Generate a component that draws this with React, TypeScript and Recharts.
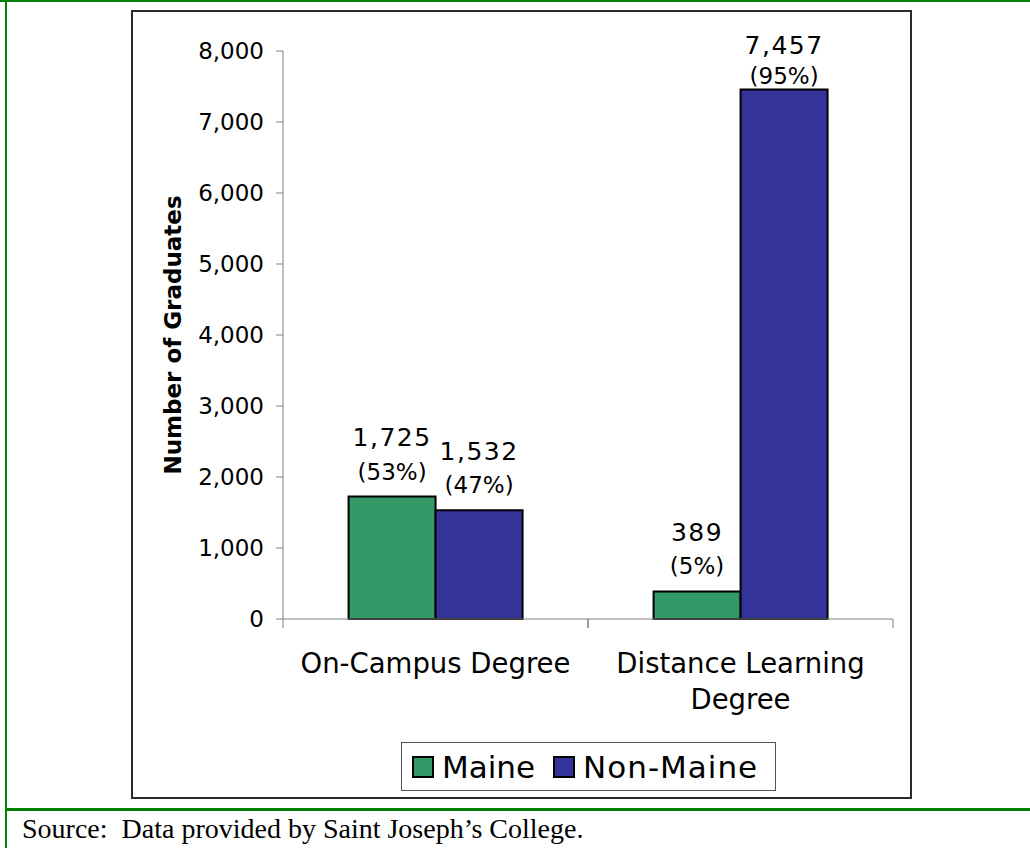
import React from "react";
import { BarChart, Bar, XAxis, YAxis, LabelList } from "recharts";

const categories = ["On-Campus Degree", "Distance Learning Degree"];
const categoryLines = [["On-Campus Degree"], ["Distance Learning", "Degree"]];
const maine = [1725, 389];
const nonMaine = [1532, 7457];
const mainePct = [53, 5];
const nonMainePct = [47, 95];
const yTicks = [0, 1000, 2000, 3000, 4000, 5000, 6000, 7000, 8000];

const data = categories.map((c, i) => ({ category: c, maine: maine[i], nonMaine: nonMaine[i] }));

const FONT = "'DejaVu Sans', Verdana, sans-serif";
const fmt = (v: number) => v.toLocaleString("en-US");

// category label plus Excel-style tick marks on the band edges
const CategoryTick = ({ x, y, payload }: any) => {
  const idx = categories.indexOf(payload.value);
  const lines = categoryLines[idx] || [payload.value];
  const half = payload.offset || 0;
  return (
    <g>
      <line x1={x - half} x2={x - half} y1={y} y2={y + 9} stroke="#808080" />
      <line x1={x + half} x2={x + half} y1={y} y2={y + 9} stroke="#808080" />
      {lines.map((line, i) => (
        <text key={i} x={x} y={y + 44 + i * 36} textAnchor="middle" dominantBaseline="central"
          fontFamily={FONT} fontSize={27.5} fill="#000">
          {line}
        </text>
      ))}
    </g>
  );
};

const makeLabel = (pcts: number[]) => (props: any) => {
  const { x, y, width, value, index } = props;
  const cx = x + width / 2;
  const clamped = y - 59 < 45;
  const vy = clamped ? 45 : y - 59;
  const py = vy + (clamped ? 31 : 34);
  return (
    <g>
      <text x={cx} y={vy} textAnchor="middle" dominantBaseline="central" fontFamily={FONT}
        fontSize={25} letterSpacing={1.5} fill="#000">{fmt(value)}</text>
      <text x={cx} y={py} textAnchor="middle" dominantBaseline="central" fontFamily={FONT}
        fontSize={23} fill="#000">({pcts[index]}%)</text>
    </g>
  );
};

const Swatch = ({ color }: { color: string }) => (
  <span style={{ display: "inline-block", width: 18, height: 18, background: color, border: "2px solid #000" }} />
);

export default function App() {
  return (
    <div style={{ position: "absolute", left: 0, top: 0, width: 1030, height: 848, background: "#fff", overflow: "hidden" }}>
      {/* green frame */}
      <div style={{ position: "absolute", left: 0, top: 0, width: 1030, height: 2, background: "#008000" }} />
      <div style={{ position: "absolute", left: 5, top: 0, width: 2, height: 848, background: "#008000" }} />
      <div style={{ position: "absolute", left: 5, top: 808, width: 1025, height: 3, background: "#008000" }} />
      {/* chart box */}
      <div style={{ position: "absolute", left: 131, top: 10, width: 781, height: 789, boxSizing: "border-box", border: "2px solid #2b2b2b" }} />

      <div style={{ position: "absolute", left: 0, top: 0 }}>
        <BarChart width={1030} height={848} data={data} barCategoryGap="21.5%" barGap={0}
          margin={{ top: 51, right: 137, left: 203, bottom: 149 }}>
          <XAxis dataKey="category" height={80} stroke="#808080" tickLine={false}
            tickSize={0} tickMargin={0} tick={<CategoryTick />} interval={0} />
          <YAxis width={80} domain={[0, 8000]} ticks={yTicks} tickFormatter={fmt} stroke="#808080"
            tickSize={7} tickMargin={12} interval={0}
            tick={{ fill: "#000", fontSize: 23, fontFamily: FONT }}
            label={{ value: "Number of Graduates", angle: -90, position: "left", offset: 30,
              style: { textAnchor: "middle", fontFamily: FONT, fontSize: 23, fontWeight: "bold", fill: "#000" } }} />
          <Bar dataKey="maine" fill="#339966" stroke="#000" strokeWidth={2} isAnimationActive={false}>
            <LabelList dataKey="maine" content={makeLabel(mainePct)} />
          </Bar>
          <Bar dataKey="nonMaine" fill="#333399" stroke="#000" strokeWidth={2} isAnimationActive={false}>
            <LabelList dataKey="nonMaine" content={makeLabel(nonMainePct)} />
          </Bar>
        </BarChart>
      </div>

      {/* legend */}
      <div style={{ position: "absolute", left: 401, top: 742, width: 375, height: 49, boxSizing: "border-box",
        border: "1px solid #555", display: "flex", alignItems: "center", paddingLeft: 10,
        fontFamily: FONT, fontSize: 31, color: "#000" }}>
        <Swatch color="#339966" />
        <span style={{ marginLeft: 8, marginRight: 18 }}>Maine</span>
        <Swatch color="#333399" />
        <span style={{ marginLeft: 8, letterSpacing: 1 }}>Non-Maine</span>
      </div>

      <div style={{ position: "absolute", left: 22, top: 813, fontFamily: "'Liberation Serif', 'Times New Roman', serif",
        fontSize: 28, color: "#000", whiteSpace: "pre" }}>
        Source:  Data provided by Saint Joseph’s College.
      </div>
    </div>
  );
}
